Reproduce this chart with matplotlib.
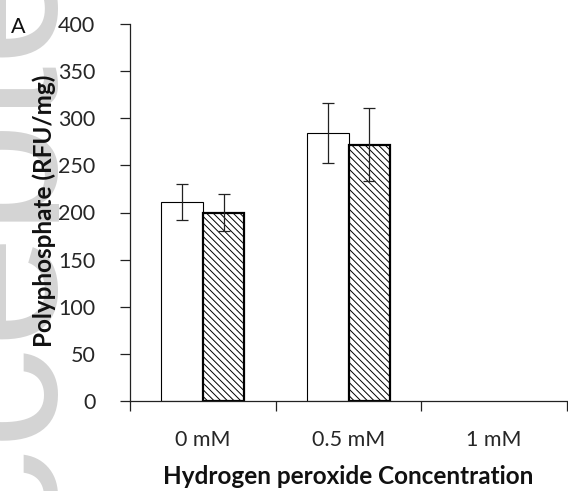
import numpy as np
import matplotlib
matplotlib.use("Agg")
import matplotlib.pyplot as plt
from matplotlib.transforms import Bbox

plt.rcParams['font.family'] = ['Lato', 'DejaVu Sans']
plt.rcParams['hatch.linewidth'] = 0.7

concentrations = ['0 mM', '0.5 mM', '1 mM']
open_means = [211, 284, np.nan]
open_err = [19, 32, np.nan]
hatched_means = [200, 272, np.nan]
hatched_err = [20, 39, np.nan]

fig = plt.figure(figsize=(5.68, 4.91), dpi=100)

# faint journal watermark running up the left edge, kept to a narrow strip
wm = fig.text(57 / 568, (491 - 685) / 491, 'Accepted Article', rotation=90,
              rotation_mode='anchor', ha='left', va='baseline',
              fontsize=146, color='#d4d4d4', family='Liberation Sans', zorder=-5)
wm.set_clip_box(Bbox([[0, 0], [59, 491]]))
wm.set_clip_on(True)

ax = fig.add_axes([130 / 568, (491 - 401) / 491, 437 / 568, 377 / 491])
ax.patch.set_alpha(0)

x = np.arange(len(concentrations))
w = 0.285
ax.bar(x - w / 2, open_means, w, color='white', edgecolor='black', linewidth=0.8)
ax.bar(x + w / 2, hatched_means, w, color='white', edgecolor='black',
       linewidth=1.6, hatch='\\\\\\\\\\')
ax.errorbar(x - w / 2, open_means, yerr=open_err, fmt='none', ecolor='#222222',
            elinewidth=0.9, capsize=4, capthick=0.9)
ax.errorbar(x + w / 2, hatched_means, yerr=hatched_err, fmt='none', ecolor='#222222',
            elinewidth=0.9, capsize=4, capthick=0.9)

ax.set_xlim(-0.5, 2.5)
ax.set_ylim(0, 400)
ax.set_yticks(np.arange(0, 401, 50))
ax.set_xticks([-0.5, 0.5, 1.5, 2.5])
ax.set_xticklabels([])
ax.set_xticks(x, concentrations, minor=True)
ax.tick_params(axis='x', which='minor', length=0, pad=21, labelsize=15.5, labelcolor='#262626')
ax.tick_params(axis='x', which='major', length=7, width=0.9, color='#222222')
ax.tick_params(axis='y', length=7, width=0.9, color='#222222', pad=18,
               labelsize=15.5, labelcolor='#262626')

for side in ['top', 'right']:
    ax.spines[side].set_visible(False)
for side in ['left', 'bottom']:
    ax.spines[side].set_linewidth(0.9)
    ax.spines[side].set_color('#222222')

fig.text(44 / 568, 1 - 211 / 491, 'Polyphosphate (RFU/mg)', rotation=90,
         ha='center', va='center', fontsize=17.5, fontweight='bold', color='#111111')
fig.text(348 / 568, 1 - 477 / 491, 'Hydrogen peroxide Concentration',
         ha='center', va='center', fontsize=17.5, fontweight='bold', color='#111111')
fig.text(18 / 568, 1 - 27 / 491, 'A', ha='center', va='center', fontsize=15.5,
         color='#111111')

fig.savefig('out.png', dpi=100)
